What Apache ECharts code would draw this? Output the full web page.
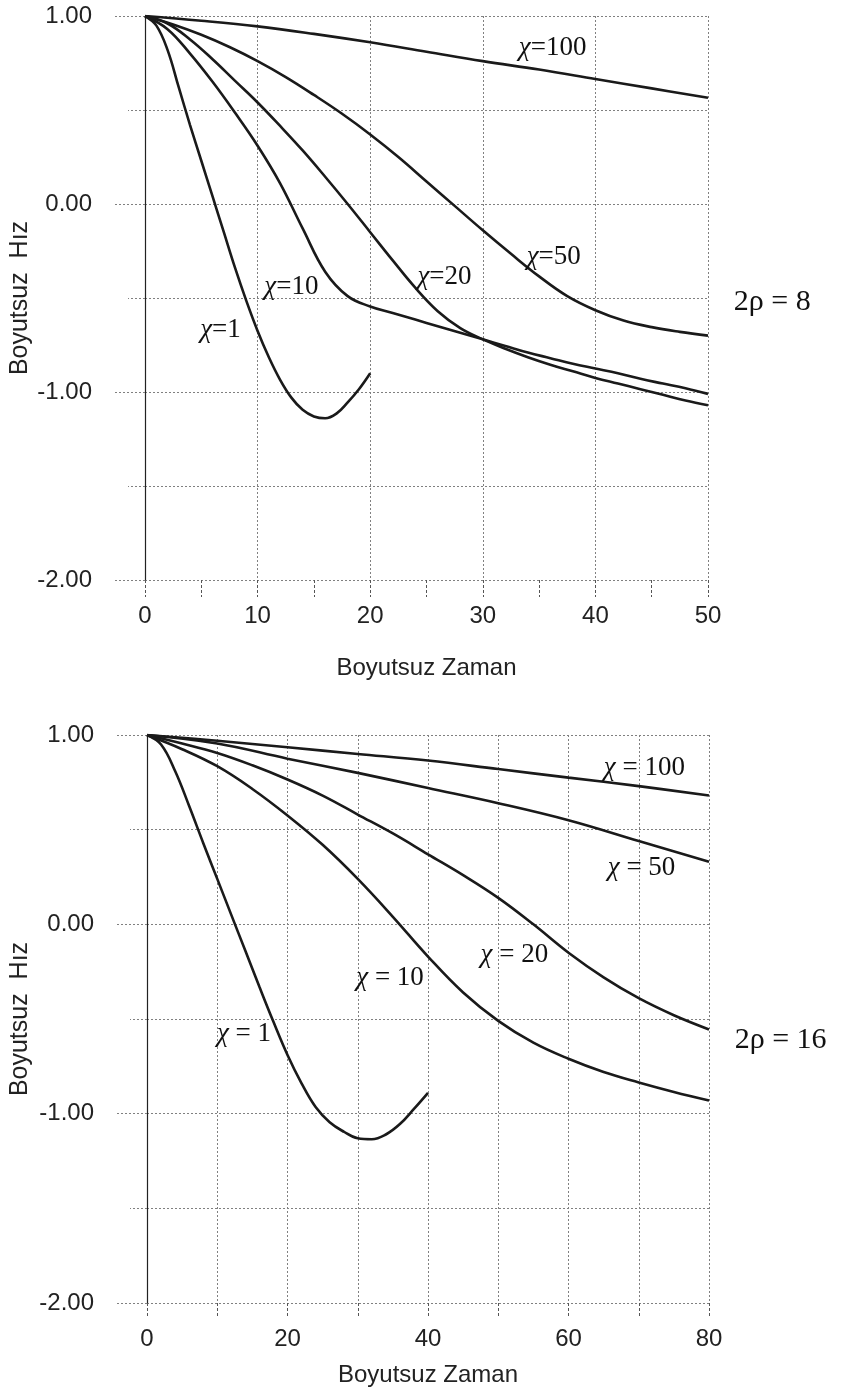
<!DOCTYPE html>
<html>
<head>
<meta charset="utf-8">
<script src="https://cdn.jsdelivr.net/npm/echarts@6/dist/echarts.min.js"></script>
<style>
  html, body { margin: 0; padding: 0; background: #ffffff; }
  #chart { width: 850px; height: 1393px; }
</style>
</head>
<body>
<div id="chart"></div>
<script>
// ---------- Data: top panel (2ρ = 8) ----------
const topChi1 = [[0,1],[1,0.95],[2,0.82],[3,0.62],[4,0.42],[5,0.23],[6,0.04],[7,-0.15],[8,-0.34],[9,-0.515],[10,-0.675],[11,-0.815],[12,-0.935],[13,-1.03],[14,-1.095],[15,-1.13],[16,-1.14],[17,-1.115],[18,-1.055],[19,-0.985],[20,-0.90]];
const topChi10 = [[0,1],[2,0.93],[4,0.80],[6,0.65],[8,0.485],[10,0.31],[12,0.11],[14,-0.13],[16,-0.36],[18,-0.49],[20,-0.545],[22,-0.58],[24,-0.615],[26,-0.65],[28,-0.685],[30,-0.72],[32,-0.755],[34,-0.79],[36,-0.82],[38,-0.85],[40,-0.875],[42,-0.90],[44,-0.93],[46,-0.955],[48,-0.98],[50,-1.01]];
const topChi20 = [[0,1],[2,0.96],[4,0.875],[6,0.77],[8,0.655],[10,0.54],[12,0.415],[14,0.285],[16,0.145],[18,0.0],[20,-0.15],[22,-0.30],[24,-0.445],[26,-0.57],[28,-0.66],[30,-0.72],[32,-0.77],[34,-0.815],[36,-0.855],[38,-0.89],[40,-0.925],[42,-0.955],[44,-0.985],[46,-1.015],[48,-1.045],[50,-1.07]];
const topChi50 = [[0,1],[2.5,0.955],[5,0.90],[7.5,0.835],[10,0.76],[12.5,0.675],[15,0.58],[17.5,0.48],[20,0.37],[22.5,0.25],[25,0.12],[27.5,-0.01],[30,-0.14],[32.5,-0.265],[35,-0.385],[37.5,-0.49],[40,-0.565],[42.5,-0.62],[45,-0.655],[47.5,-0.68],[50,-0.70]];
const topChi100 = [[0,1],[5,0.975],[10,0.945],[15,0.905],[20,0.86],[25,0.81],[30,0.76],[35,0.715],[40,0.665],[45,0.615],[50,0.565]];

// ---------- Data: bottom panel (2ρ = 16) ----------
const botChi1 = [[0,1],[2,0.95],[4,0.81],[6,0.625],[8,0.43],[10,0.24],[12,0.05],[14,-0.14],[16,-0.33],[18,-0.515],[20,-0.69],[22,-0.84],[24,-0.965],[26,-1.045],[28,-1.095],[30,-1.13],[32,-1.135],[34,-1.11],[36,-1.055],[38,-0.975],[40,-0.89]];
const botChi10 = [[0,1],[5,0.925],[10,0.835],[15,0.715],[20,0.575],[25,0.42],[30,0.24],[35,0.04],[40,-0.17],[45,-0.36],[50,-0.51],[55,-0.625],[60,-0.71],[65,-0.78],[70,-0.835],[75,-0.885],[80,-0.93]];
const botChi20 = [[0,1],[5,0.955],[10,0.905],[15,0.84],[20,0.765],[25,0.68],[30,0.58],[35,0.48],[40,0.37],[45,0.26],[50,0.14],[55,0.0],[60,-0.15],[65,-0.28],[70,-0.39],[75,-0.48],[80,-0.555]];
const botChi50 = [[0,1],[10,0.955],[20,0.875],[30,0.80],[40,0.72],[50,0.64],[60,0.55],[70,0.44],[80,0.33]];
const botChi100 = [[0,1],[10,0.97],[20,0.935],[30,0.90],[40,0.865],[50,0.82],[60,0.775],[70,0.73],[80,0.68]];

// ---------- Axis ranges / titles ----------
const yTitle = 'Boyutsuz  Hız';
const xTitle = 'Boyutsuz Zaman';
const topXMax = 50;
const botXMax = 80;

// ---------- Curve labels (data coordinates of label centres) ----------
const topLabels = [
  { text: '{i|χ}=100', at: [36.2, 0.83] },
  { text: '{i|χ}=50',  at: [36.3, -0.28] },
  { text: '{i|χ}=20',  at: [26.6, -0.39] },
  { text: '{i|χ}=10',  at: [13.0, -0.44] },
  { text: '{i|χ}=1',   at: [6.7, -0.67] }
];
const botLabels = [
  { text: '{i|χ} = 100', at: [70.8, 0.824] },
  { text: '{i|χ} = 50',  at: [70.4, 0.296] },
  { text: '{i|χ} = 20',  at: [52.3, -0.16] },
  { text: '{i|χ} = 10',  at: [34.6, -0.285] },
  { text: '{i|χ} = 1',   at: [13.8, -0.58] }
];
const topTag = { text: '2ρ = 8',  at: [55.7, -0.52] };
const botTag = { text: '2ρ = 16', at: [90.2, -0.61] };

// ---------- Styles ----------
const gridLine = { color: '#808080', width: 1, type: [2, 2] };
const sans = 'Liberation Sans, Arial, sans-serif';
const serif = 'Liberation Serif, Times New Roman, serif';

function yAxisFor(gi, gap) {
  return {
    gridIndex: gi, type: 'value', min: -2, max: 1, interval: 1,
    axisLine: { show: true, onZero: false, lineStyle: { color: '#222', width: 1.2 } },
    axisTick: { show: true, length: 32, lineStyle: gridLine },
    minorTick: { show: true, splitNumber: 2, length: 17, lineStyle: gridLine },
    splitLine: { show: true, lineStyle: gridLine },
    minorSplitLine: { show: true, lineStyle: gridLine },
    axisLabel: { formatter: v => v.toFixed(2), margin: 53, fontSize: 24, color: '#222', fontFamily: sans },
    name: yTitle, nameLocation: 'middle', nameGap: gap, nameMoveOverlap: false,
    nameTextStyle: { fontSize: 25, color: '#222', fontFamily: sans }
  };
}

function lineSeries(data, xi, yi) {
  return {
    type: 'line', data: data, xAxisIndex: xi, yAxisIndex: yi,
    smooth: 0.4, showSymbol: false, symbol: 'none',
    lineStyle: { color: '#1a1a1a', width: 2.6 },
    silent: true
  };
}

const chart = echarts.init(document.getElementById('chart'), null, { renderer: 'canvas' });

chart.setOption({
  animation: false,
  backgroundColor: '#ffffff',
  grid: [
    { left: 145, right: 142, top: 16, height: 564, containLabel: false, outerBoundsMode: 'none' },
    { left: 147, right: 141, top: 735, height: 568, containLabel: false, outerBoundsMode: 'none' }
  ],
  xAxis: [
    {
      gridIndex: 0, type: 'value', min: 0, max: topXMax, interval: 10,
      axisLine: { show: false, onZero: false },
      axisTick: { show: true, length: 17, lineStyle: { color: '#555', width: 1, type: [3, 2] } },
      minorTick: { show: true, splitNumber: 2, length: 17, lineStyle: { color: '#555', width: 1, type: [3, 2] } },
      splitLine: { show: true, lineStyle: gridLine },
      axisLabel: { margin: 24, fontSize: 24, color: '#222', fontFamily: sans },
      name: xTitle, nameLocation: 'middle', nameGap: 76, nameMoveOverlap: false,
      nameTextStyle: { fontSize: 24, color: '#222', fontFamily: sans }
    },
    {
      gridIndex: 1, type: 'value', min: 0, max: botXMax, interval: 10,
      axisLine: { show: false, onZero: false },
      axisTick: { show: true, length: 15, lineStyle: { color: '#555', width: 1, type: [3, 2] } },
      splitLine: { show: true, lineStyle: gridLine },
      axisLabel: { margin: 24, fontSize: 24, color: '#222', fontFamily: sans,
                   formatter: v => (v % 20 === 0 ? String(v) : '') },
      name: xTitle, nameLocation: 'middle', nameGap: 60, nameMoveOverlap: false,
      nameTextStyle: { fontSize: 24, color: '#222', fontFamily: sans }
    }
  ],
  yAxis: [ yAxisFor(0, 112), yAxisFor(1, 114) ],
  series: [
    lineSeries(topChi1, 0, 0),
    lineSeries(topChi10, 0, 0),
    lineSeries(topChi20, 0, 0),
    lineSeries(topChi50, 0, 0),
    lineSeries(topChi100, 0, 0),
    lineSeries(botChi1, 1, 1),
    lineSeries(botChi10, 1, 1),
    lineSeries(botChi20, 1, 1),
    lineSeries(botChi50, 1, 1),
    lineSeries(botChi100, 1, 1)
  ]
});

// Place annotations through the chart's own coordinate system
function labelGraphic(lbl, gi, size) {
  const p = chart.convertToPixel({ gridIndex: gi }, lbl.at);
  return {
    type: 'text', x: p[0], y: p[1], silent: true, z: 100,
    style: {
      text: lbl.text, fill: '#111', fontSize: size, fontFamily: serif,
      align: 'center', verticalAlign: 'middle',
      rich: { i: { fontStyle: 'italic', fontSize: size, fontFamily: serif, fill: '#111' } }
    }
  };
}
const graphics = [];
topLabels.forEach(l => graphics.push(labelGraphic(l, 0, 27)));
botLabels.forEach(l => graphics.push(labelGraphic(l, 1, 27)));
graphics.push(labelGraphic(topTag, 0, 30));
graphics.push(labelGraphic(botTag, 1, 30));
chart.setOption({ graphic: graphics });
</script>
</body>
</html>
